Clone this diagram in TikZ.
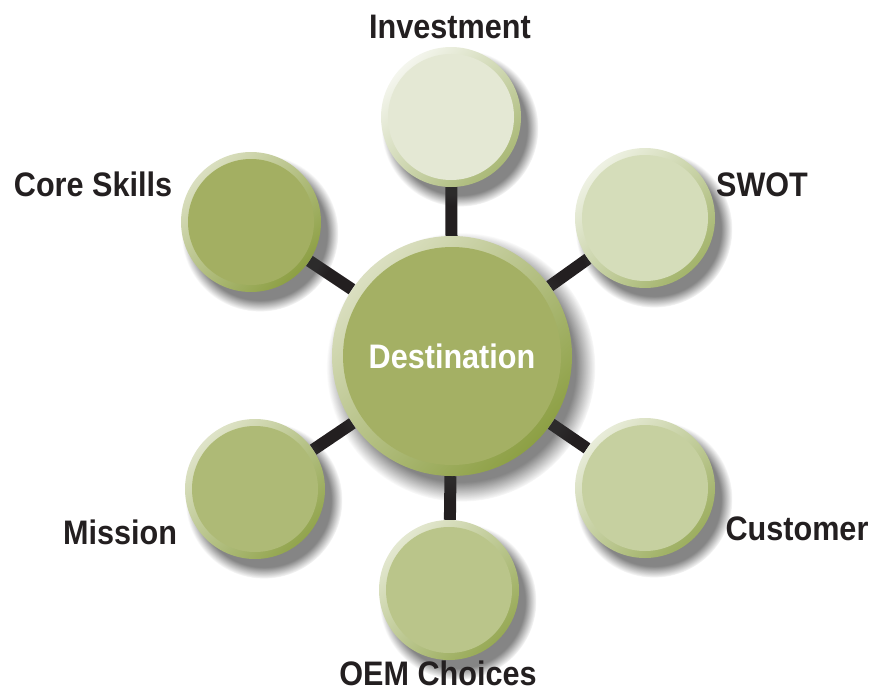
\documentclass[tikz,border=0pt]{standalone}
\usepackage{fontspec}
\setmainfont{Liberation Sans}[FakeStretch=0.9]
\usetikzlibrary{shadows,backgrounds}

\definecolor{stemblack}{HTML}{231F20}
\definecolor{olivedark}{HTML}{7A922A}
\definecolor{destgreen}{HTML}{A4B064}
\definecolor{coregreen}{HTML}{A3AF62}
\definecolor{investgreen}{HTML}{E4E8D4}
\definecolor{swotgreen}{HTML}{D5DDBA}
\definecolor{custgreen}{HTML}{C6D0A0}
\definecolor{oemgreen}{HTML}{BAC58A}
\definecolor{missiongreen}{HTML}{AEBA76}

\tikzset{
  % radius, face colour, width of the bevelled rim
  bubble/.style n args={3}{circle, inner sep=0pt, minimum size={2*#1pt},
    top color=#2!40!white, middle color=#2, bottom color=#2!45!olivedark,
    shading angle=45,
    circular drop shadow={shadow xshift=8pt, shadow yshift=-10pt,
      shadow scale=1.12, opacity=.6, fill=black!80},
    path picture={\fill[#2] (path picture bounding box.center)
      circle[radius=#1-#3];}},
  tag/.style={font=\bfseries\fontsize{34}{40}\selectfont, text=stemblack,
    inner sep=0pt},
  stem/.style={stemblack, line width=12pt}
}

\begin{document}
\begin{tikzpicture}[x=1pt, y=-1pt]
  \useasboundingbox (0,0) rectangle (872,693);
  % centre and the six satellites
  \node[bubble={120}{destgreen}{11}, tag, text=white] (dest) at (452,356) {Destination};
  \node[bubble={70}{investgreen}{7}] (invest) at (451,117) {};
  \node[bubble={70}{swotgreen}{7}] (swot) at (645,218) {};
  \node[bubble={70}{custgreen}{7}] (cust) at (645,488) {};
  \node[bubble={70}{oemgreen}{7}] (oem) at (449,590) {};
  \node[bubble={70}{missiongreen}{7}] (mission) at (255,489) {};
  \node[bubble={70}{coregreen}{7}] (core) at (251,222) {};
  % stems, kept behind the bubbles
  \begin{scope}[on background layer]
    \draw[stem] (dest) -- (invest);
    \draw[stem] (dest) -- (swot);
    \draw[stem] (dest) -- (cust);
    \draw[stem] (dest) -- (oem);
    \draw[stem] (dest) -- (mission);
    \draw[stem] (dest) -- (core);
  \end{scope}
  % labels
  \node[tag, anchor=base] (investlabel) at (450,38) {Investment};
  \node[tag, anchor=base] (swotlabel) at (762,196) {SWOT};
  \node[tag, anchor=base] (custlabel) at (797,540) {Customer};
  \node[tag, anchor=base] (oemlabel) at (438,685) {OEM Choices};
  \node[tag, anchor=base] (missionlabel) at (120,544) {Mission};
  \node[tag, anchor=base] (corelabel) at (93,196) {Core Skills};
\end{tikzpicture}
\end{document}
